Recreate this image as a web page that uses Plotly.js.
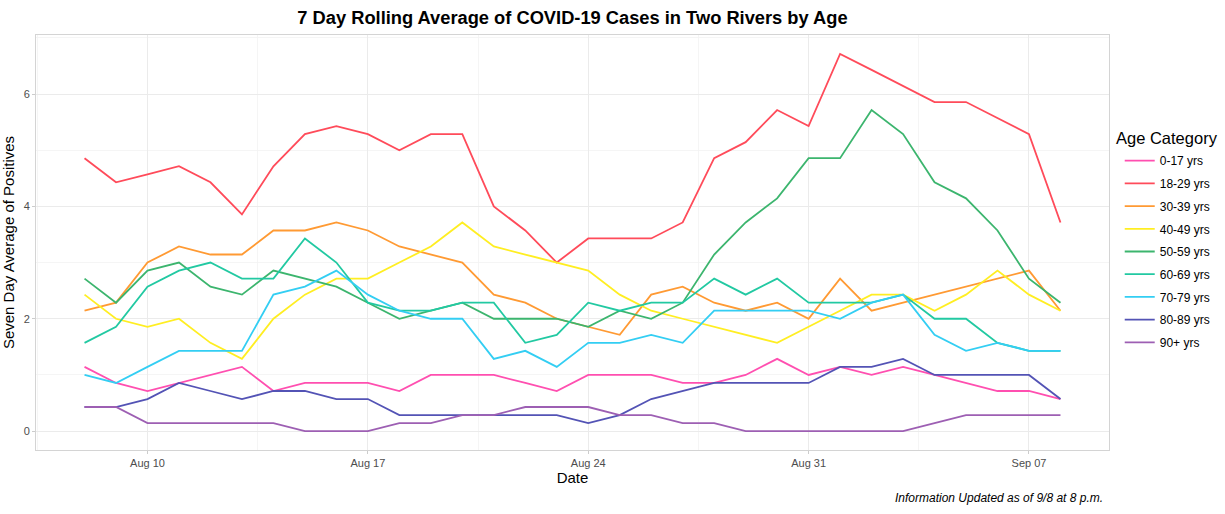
<!DOCTYPE html>
<html>
<head>
<meta charset="utf-8">
<script src="https://cdn.plot.ly/plotly-3.0.1.min.js"></script>
<style>html,body{margin:0;padding:0;background:#fff;}#chart{width:1225px;height:514px;}</style>
</head>
<body>
<div id="chart"></div>
<script>
const dates = ["2020-08-08","2020-08-09","2020-08-10","2020-08-11","2020-08-12","2020-08-13","2020-08-14","2020-08-15","2020-08-16","2020-08-17","2020-08-18","2020-08-19","2020-08-20","2020-08-21","2020-08-22","2020-08-23","2020-08-24","2020-08-25","2020-08-26","2020-08-27","2020-08-28","2020-08-29","2020-08-30","2020-08-31","2020-09-01","2020-09-02","2020-09-03","2020-09-04","2020-09-05","2020-09-06","2020-09-07","2020-09-08"];

const age0_17  = [1.143,0.857,0.714,0.857,1.0,1.143,0.714,0.857,0.857,0.857,0.714,1.0,1.0,1.0,0.857,0.714,1.0,1.0,1.0,0.857,0.857,1.0,1.286,1.0,1.143,1.0,1.143,1.0,0.857,0.714,0.714,0.571];
const age18_29 = [4.857,4.429,4.571,4.714,4.429,3.857,4.714,5.286,5.429,5.286,5.0,5.286,5.286,4.0,3.571,3.0,3.429,3.429,3.429,3.714,4.857,5.143,5.714,5.429,6.714,6.429,6.143,5.857,5.857,5.571,5.286,3.714];
const age30_39 = [2.143,2.286,3.0,3.286,3.143,3.143,3.571,3.571,3.714,3.571,3.286,3.143,3.0,2.429,2.286,2.0,1.857,1.714,2.429,2.571,2.286,2.143,2.286,2.0,2.714,2.143,2.286,2.429,2.571,2.714,2.857,2.143];
const age40_49 = [2.429,2.0,1.857,2.0,1.571,1.286,2.0,2.429,2.714,2.714,3.0,3.286,3.714,3.286,3.143,3.0,2.857,2.429,2.143,2.0,1.857,1.714,1.571,1.857,2.143,2.429,2.429,2.143,2.429,2.857,2.429,2.143];
const age50_59 = [2.714,2.286,2.857,3.0,2.571,2.429,2.857,2.714,2.571,2.286,2.0,2.143,2.286,2.0,2.0,2.0,1.857,2.143,2.0,2.286,3.143,3.714,4.143,4.857,4.857,5.714,5.286,4.429,4.143,3.571,2.714,2.286];
const age60_69 = [1.571,1.857,2.571,2.857,3.0,2.714,2.714,3.429,3.0,2.286,2.143,2.143,2.286,2.286,1.571,1.714,2.286,2.143,2.286,2.286,2.714,2.429,2.714,2.286,2.286,2.286,2.429,2.0,2.0,1.571,1.429,1.429];
const age70_79 = [1.0,0.857,1.143,1.429,1.429,1.429,2.429,2.571,2.857,2.429,2.143,2.0,2.0,1.286,1.429,1.143,1.571,1.571,1.714,1.571,2.143,2.143,2.143,2.143,2.0,2.286,2.429,1.714,1.429,1.571,1.429,1.429];
const age80_89 = [0.429,0.429,0.571,0.857,0.714,0.571,0.714,0.714,0.571,0.571,0.286,0.286,0.286,0.286,0.286,0.286,0.143,0.286,0.571,0.714,0.857,0.857,0.857,0.857,1.143,1.143,1.286,1.0,1.0,1.0,1.0,0.571];
const age90p   = [0.429,0.429,0.143,0.143,0.143,0.143,0.143,0.0,0.0,0.0,0.143,0.143,0.286,0.286,0.429,0.429,0.429,0.286,0.286,0.143,0.143,0.0,0.0,0.0,0.0,0.0,0.0,0.143,0.286,0.286,0.286,0.286];

const seriesNames = ["0-17 yrs","18-29 yrs","30-39 yrs","40-49 yrs","50-59 yrs","60-69 yrs","70-79 yrs","80-89 yrs","90+ yrs"];
const seriesValues = [age0_17, age18_29, age30_39, age40_49, age50_59, age60_69, age70_79, age80_89, age90p];
const seriesColors = ["#FF4FB0","#FF4B5A","#FF9A33","#FFEE22","#3CB56E","#22C9A2","#33CEF3","#5353B5","#9D5FB3"];

const traces = seriesNames.map((n, i) => ({
  type: "scatter", mode: "lines", name: n, x: dates, y: seriesValues[i],
  line: {color: seriesColors[i], width: 1.8},
  legendgroup: "g" + i
}));

const DAY = 86400000;
const layout = {
  width: 1225, height: 514,
  margin: {l: 36, r: 116, t: 35, b: 64, autoexpand: false},
  paper_bgcolor: "#fff", plot_bgcolor: "#fff",
  font: {family: "Liberation Sans, Arial, sans-serif", color: "#000"},
  title: {text: "<b>7 Day Rolling Average of COVID-19 Cases in Two Rivers by Age</b>", x: 0.5, xref: "paper", xanchor: "center", y: 0.965, yanchor: "middle", font: {size: 18.3, color: "#000"}},
  xaxis: {
    type: "date",
    range: ["2020-08-06 11:00", "2020-09-09 13:00"],
    tick0: "2020-08-10", dtick: 7 * DAY, tickformat: "%b %d",
    ticks: "outside", ticklen: 3, tickcolor: "#CCCCCC",
    tickfont: {size: 11, color: "#4D4D4D"},
    showgrid: true, gridcolor: "#EBEBEB", gridwidth: 1,
    minor: {tick0: "2020-08-10", dtick: 3.5 * DAY, showgrid: true, gridcolor: "#F2F2F2", gridwidth: 0.8},
    showline: true, mirror: true, linecolor: "#D4D4D4", linewidth: 1,
    zeroline: false,
    title: {text: "Date", font: {size: 15, color: "#000"}, standoff: 4}
  },
  yaxis: {
    range: [-0.336, 7.05],
    tick0: 0, dtick: 2,
    ticks: "outside", ticklen: 3, tickcolor: "#CCCCCC",
    tickfont: {size: 11, color: "#4D4D4D"},
    showgrid: true, gridcolor: "#EBEBEB", gridwidth: 1,
    minor: {tick0: 1, dtick: 2, showgrid: true, gridcolor: "#F2F2F2", gridwidth: 0.8},
    showline: true, mirror: true, linecolor: "#D4D4D4", linewidth: 1,
    zeroline: false,
    title: {text: "Seven Day Average of Positives", font: {size: 15, color: "#000"}, standoff: 8}
  },
  legend: {
    x: 1.01, xanchor: "left", y: 0.732, yanchor: "top",
    font: {size: 12, color: "#000"},
    traceorder: "grouped", tracegroupgap: 3.7,
    bgcolor: "rgba(0,0,0,0)"
  },
  annotations: [{
    text: "<i>Information Updated as of 9/8 at 8 p.m.</i>",
    xref: "paper", yref: "paper", x: 0.996, y: -0.093, xanchor: "right", yanchor: "top",
    showarrow: false, font: {size: 12, color: "#000"}
  }, {
    text: "Age Category",
    xref: "paper", yref: "paper", x: 1.005, y: 0.753, xanchor: "left", yanchor: "middle",
    showarrow: false, font: {size: 16.5, color: "#000"}
  }],
  showlegend: true
};

Plotly.newPlot("chart", traces, layout, {displayModeBar: false, staticPlot: true});
</script>
</body>
</html>
